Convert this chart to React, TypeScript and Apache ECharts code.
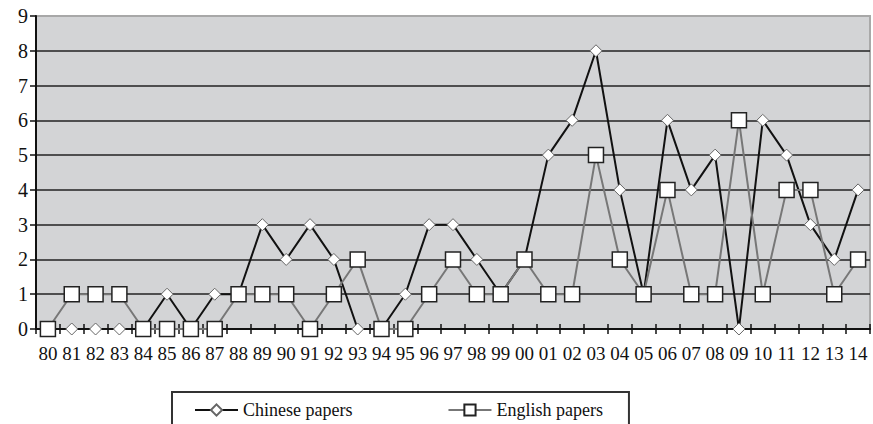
import React, { useEffect, useRef } from "react";
import * as echarts from "echarts";

const years = ["80","81","82","83","84","85","86","87","88","89","90","91","92","93","94","95","96","97","98","99","00","01","02","03","04","05","06","07","08","09","10","11","12","13","14"];
const chinesePapers = [0,0,0,0,0,1,0,1,1,3,2,3,2,0,0,1,3,3,2,1,2,5,6,8,4,1,6,4,5,0,6,5,3,2,4];
const englishPapers = [0,1,1,1,0,0,0,0,1,1,1,0,1,2,0,0,1,2,1,1,2,1,1,5,2,1,4,1,1,6,1,4,4,1,2];
const yTicks = [0,1,2,3,4,5,6,7,8,9];

const FONT = "'Liberation Serif', 'DejaVu Serif', serif";

export default function App() {
  const ref = useRef<HTMLDivElement>(null);
  useEffect(() => {
    if (!ref.current) return;
    const chart = echarts.init(ref.current, null, { renderer: "svg" });
    const splitColors = yTicks.map((t) => (t === yTicks[yTicks.length - 1] ? "#a9a9a9" : "#222222"));
    chart.setOption({
      animation: false,
      textStyle: { fontFamily: FONT },
      grid: {
        left: 36,
        right: 3,
        top: 16,
        bottom: 95,
        show: true,
        backgroundColor: "#d3d4d6",
        borderColor: "#a9a9a9",
        borderWidth: 2,
      },
      legend: {
        left: 172,
        top: 392,
        padding: [9, 26, 30, 22],
        itemGap: 95,
        itemWidth: 43,
        itemHeight: 14,
        borderColor: "#333333",
        borderWidth: 2,
        textStyle: { fontFamily: FONT, fontSize: 18, color: "#111" },
        data: ["Chinese papers", "English papers"],
      },
      xAxis: [
        {
          type: "category",
          data: years,
          boundaryGap: true,
          position: "bottom",
          axisLine: { lineStyle: { color: "#111", width: 2 } },
          axisTick: { show: true, length: 5, lineStyle: { color: "#111", width: 1.5 } },
          axisLabel: { interval: 0, fontFamily: FONT, fontSize: 19, color: "#111", margin: 15 },
          splitLine: { show: false },
        },
        {
          type: "category",
          data: years,
          boundaryGap: true,
          position: "bottom",
          axisLine: { show: false },
          axisTick: { show: true, inside: true, length: 5, lineStyle: { color: "#111", width: 1.5 } },
          axisLabel: { show: false },
          splitLine: { show: false },
        },
      ],
      yAxis: {
        type: "value",
        min: 0,
        max: 9,
        interval: 1,
        axisLine: { show: true, lineStyle: { color: "#111", width: 2 } },
        axisTick: { show: true, length: 6, lineStyle: { color: "#111", width: 1.5 } },
        axisLabel: { fontFamily: FONT, fontSize: 20, color: "#111", margin: 8 },
        splitLine: { show: true, lineStyle: { color: splitColors, width: 1.5 } },
      },
      series: [
        {
          name: "Chinese papers",
          type: "line",
          data: chinesePapers,
          symbol: "diamond",
          symbolSize: 12,
          lineStyle: { color: "#111111", width: 2 },
          itemStyle: { color: "#ffffff", borderColor: "#666666", borderWidth: 1 },
          z: 2,
        },
        {
          name: "English papers",
          type: "line",
          data: englishPapers,
          symbol: "rect",
          symbolSize: 15,
          lineStyle: { color: "#777777", width: 2 },
          itemStyle: { color: "#ffffff", borderColor: "#222222", borderWidth: 1.5 },
          z: 3,
        },
      ],
    });
    return () => chart.dispose();
  }, []);
  return (
    <div
      ref={ref}
      style={{ position: "fixed", left: 0, top: 0, width: 873, height: 424, background: "#ffffff" }}
    />
  );
}
